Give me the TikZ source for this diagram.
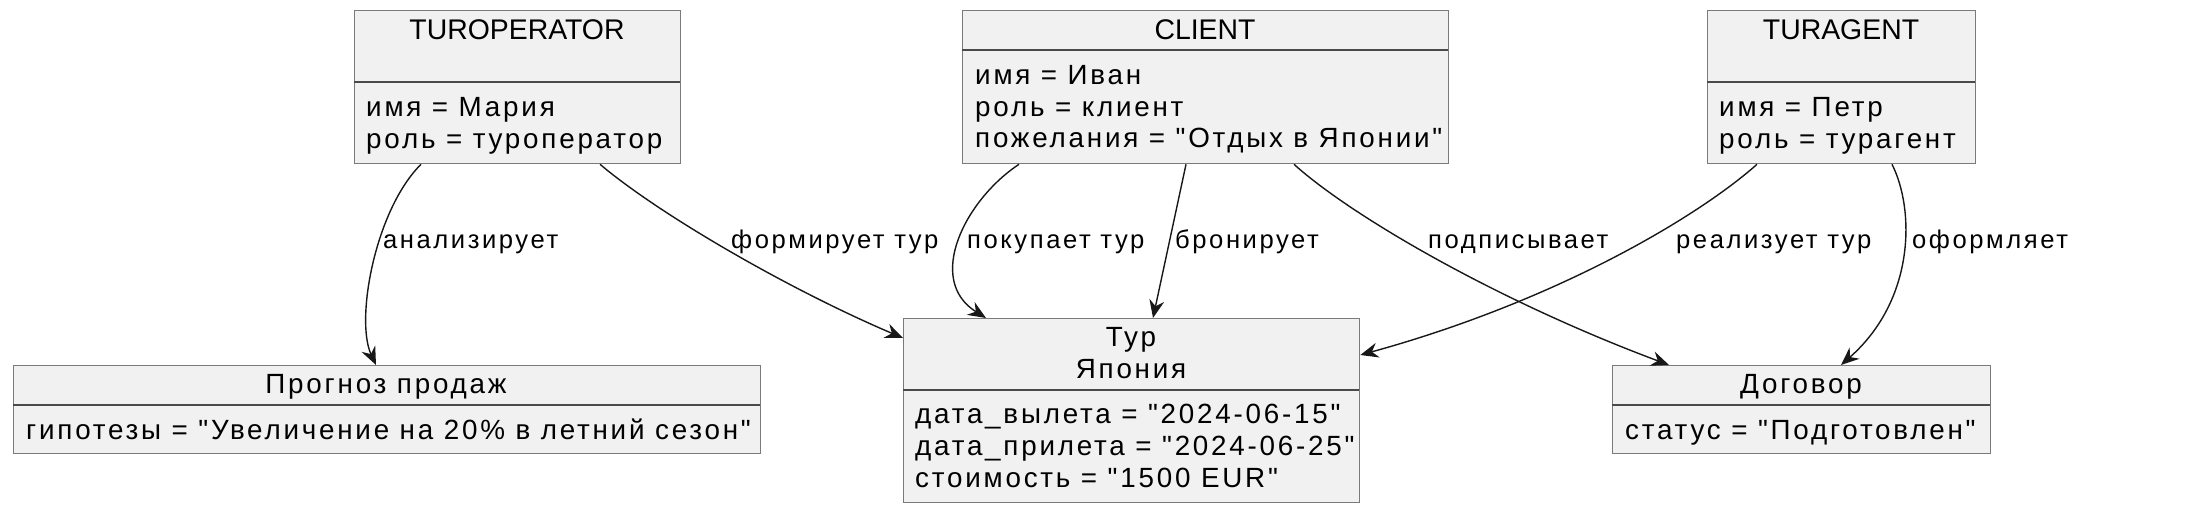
\documentclass[tikz,border=0pt]{standalone}
\usepackage{fontspec}
\setmainfont{Liberation Sans}
\newfontfamily\cyrfont[LetterSpace=10]{Liberation Sans}
\usepackage{xcolor}
\usepackage{tikz}
\usetikzlibrary{positioning,calc,arrows.meta}

\definecolor{boxfill}{HTML}{F1F1F1}
\definecolor{boxline}{HTML}{7A7A7A}
\definecolor{sepline}{HTML}{4A4A4A}
\definecolor{inkline}{HTML}{181818}
\newcommand\objlatfont{\fontsize{28.4pt}{32pt}\selectfont}
\newcommand\objcyrfont{\cyrfont\fontsize{27.8pt}{32pt}\selectfont}
\newcommand\relcyrfont{\cyrfont\fontsize{25.6pt}{30pt}\selectfont}

\begin{document}
\begin{tikzpicture}[x=1pt,y=-1pt,
    objbox/.style={draw=boxline, fill=boxfill, line width=1.3pt, inner sep=0pt, anchor=north west},
    sep/.style={draw=sepline, line width=1.2pt},
    objtitle/.style={font=\objcyrfont, inner sep=0pt, anchor=base},
    lattitle/.style={font=\objlatfont, inner sep=0pt, anchor=base},
    attr/.style={font=\objcyrfont, inner sep=0pt, anchor=base west},
    rel/.style={draw=inkline, line width=1.4pt, -{Stealth[length=18pt,width=15pt,inset=6pt]}},
    rellabel/.style={font=\relcyrfont, inner sep=0pt, anchor=base west}]
    \useasboundingbox (0,0) rectangle (2195,526);

    % Turoperator
    \node[objbox, minimum width=326pt, minimum height=153pt] (turop) at (354,10) {};
    \draw[sep] (354,82) -- (680,82);
    \node[lattitle] (turopTitle) at (517,40) {TUROPERATOR};
    \node[attr] (turopName) at (366,117) {имя = Мария};
    \node[attr] (turopRole) at (366,149) {роль = туроператор};

    % Client
    \node[objbox, minimum width=486pt, minimum height=153pt] (client) at (962,10) {};
    \draw[sep] (962,50) -- (1448,50);
    \node[lattitle] (clientTitle) at (1205,40) {CLIENT};
    \node[attr] (clientName) at (975,85) {имя = Иван};
    \node[attr] (clientRole) at (975,117) {роль = клиент};
    \node[attr] (clientWish) at (975,148) {пожелания = "Отдых в Японии"};

    % Turagent
    \node[objbox, minimum width=268pt, minimum height=153pt] (turag) at (1707,10) {};
    \draw[sep] (1707,82) -- (1975,82);
    \node[lattitle] (turagTitle) at (1841,40) {TURAGENT};
    \node[attr] (turagName) at (1719,117) {имя = Петр};
    \node[attr] (turagRole) at (1719,149) {роль = турагент};

    % Prognoz
    \node[objbox, minimum width=747pt, minimum height=88pt] (prognoz) at (13,365) {};
    \draw[sep] (13,405) -- (760,405);
    \node[objtitle] (prognozTitle) at (386,394) {Прогноз продаж};
    \node[attr] (prognozHyp) at (26,439) {гипотезы = "Увеличение на 20\% в летний сезон"};

    % Tur
    \node[objbox, minimum width=456pt, minimum height=184pt] (tur) at (903,318) {};
    \draw[sep] (903,390) -- (1359,390);
    \node[objtitle] (turTitle) at (1131,347) {Тур};
    \node[objtitle] (turName) at (1131,378) {Япония};
    \node[attr] (turOut) at (915,423) {дата\_вылета = "2024-06-15"};
    \node[attr] (turBack) at (915,455) {дата\_прилета = "2024-06-25"};
    \node[attr] (turCost) at (915,487) {стоимость = "1500 EUR"};

    % Dogovor
    \node[objbox, minimum width=378pt, minimum height=88pt] (dogovor) at (1612,365) {};
    \draw[sep] (1612,405) -- (1990,405);
    \node[objtitle] (dogovorTitle) at (1801,394) {Договор};
    \node[attr] (dogovorState) at (1625,439) {статус = "Подготовлен"};

    % Relations
    \draw[rel] ([xshift=67pt]turop.south west) .. controls (375,210) and (355,320) .. ([xshift=363pt]prognoz.north west);
    \draw[rel] ([xshift=246pt]turop.south west) .. controls (660,215) and (790,290) .. ([yshift=-20pt]tur.north west);
    \draw[rel] ([xshift=57pt]client.south west) .. controls (965,200) and (925,280) .. ([xshift=83pt]tur.north west);
    \draw[rel] ([xshift=224pt]client.south west) -- ([xshift=250pt]tur.north west);
    \draw[rel] ([xshift=332pt]client.south west) .. controls (1350,215) and (1495,300) .. ([xshift=57pt]dogovor.north west);
    \draw[rel] ([xshift=50pt]turag.south west) .. controls (1700,215) and (1560,300) .. ([yshift=-37pt]tur.north east);
    \draw[rel] ([xshift=185pt]turag.south west) .. controls (1915,210) and (1915,300) .. ([xshift=229pt]dogovor.north west);

    % Labels
    \node[rellabel] (lblAnalyze) at (383,249) {анализирует};
    \node[rellabel] (lblForm) at (731,249) {формирует тур};
    \node[rellabel] (lblBuy) at (967,249) {покупает тур};
    \node[rellabel] (lblBook) at (1175,249) {бронирует};
    \node[rellabel] (lblSign) at (1428,249) {подписывает};
    \node[rellabel] (lblSell) at (1676,249) {реализует тур};
    \node[rellabel] (lblIssue) at (1912,249) {оформляет};
\end{tikzpicture}
\end{document}
